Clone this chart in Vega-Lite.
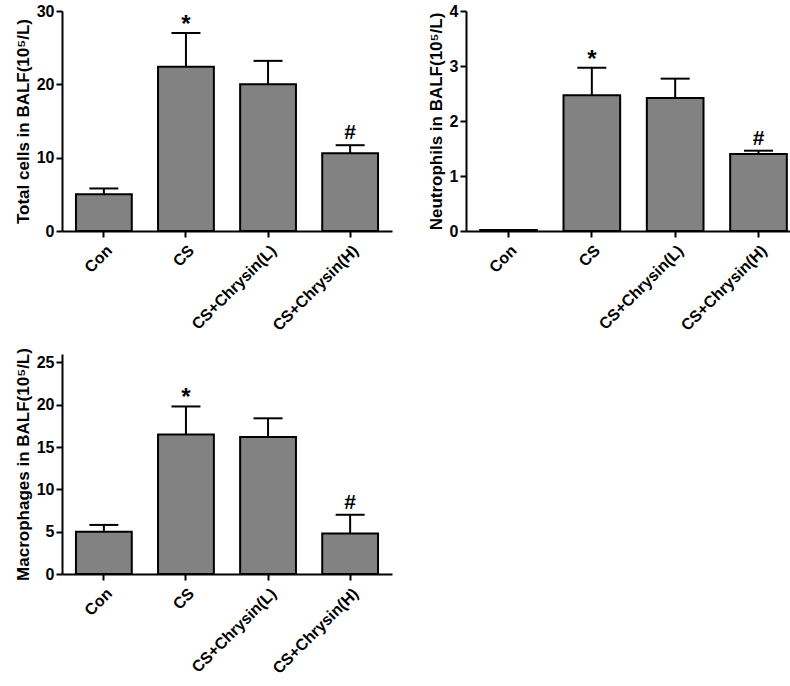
{
  "$schema": "https://vega.github.io/schema/vega-lite/v6.json",
  "background": "white",
  "padding": {"left": 14, "top": 3, "right": 0, "bottom": 0},
  "datasets": {
    "total": [
      {"group": "Con", "mean": 5.0, "err": 5.8, "sig": ""},
      {"group": "CS", "mean": 22.4, "err": 27.0, "sig": "*"},
      {"group": "CS+Chrysin(L)", "mean": 20.0, "err": 23.2, "sig": ""},
      {"group": "CS+Chrysin(H)", "mean": 10.6, "err": 11.7, "sig": "#"}
    ],
    "neut": [
      {"group": "Con", "mean": 0.02, "err": 0.02, "sig": ""},
      {"group": "CS", "mean": 2.47, "err": 2.97, "sig": "*"},
      {"group": "CS+Chrysin(L)", "mean": 2.42, "err": 2.77, "sig": ""},
      {"group": "CS+Chrysin(H)", "mean": 1.40, "err": 1.46, "sig": "#"}
    ],
    "macro": [
      {"group": "Con", "mean": 5.0, "err": 5.8, "sig": ""},
      {"group": "CS", "mean": 16.5, "err": 19.8, "sig": "*"},
      {"group": "CS+Chrysin(L)", "mean": 16.2, "err": 18.4, "sig": ""},
      {"group": "CS+Chrysin(H)", "mean": 4.8, "err": 7.0, "sig": "#"}
    ]
  },
  "config": {
    "view": {"stroke": null},
    "font": "Liberation Sans",
    "axis": {
      "domainColor": "black", "domainWidth": 2,
      "tickColor": "black", "tickWidth": 2, "tickSize": 6,
      "labelFont": "Liberation Sans", "labelFontWeight": "bold", "labelFontSize": 16, "labelColor": "black",
      "titleFont": "Liberation Sans", "titleFontWeight": "bold", "titleFontSize": 17, "titleColor": "black",
      "grid": false
    },
    "axisX": {"labelPadding": 5}
  },
  "spacing": 13,
  "vconcat": [
    {
      "spacing": 35,
      "hconcat": [
        {
          "width": 330, "height": 220,
          "data": {"name": "total"},
          "encoding": {
            "x": {"field": "group", "type": "nominal", "sort": null,
                  "scale": {"paddingInner": 0.32, "paddingOuter": 0.17},
                  "axis": {"title": null, "labelAngle": -45}}
          },
          "layer": [
            {"mark": {"type": "bar", "fill": "#828282", "stroke": "black", "strokeWidth": 2},
             "encoding": {"y": {"field": "mean", "type": "quantitative", "scale": {"domain": [0, 30]},
                                "axis": {"values": [0, 10, 20, 30], "format": "d", "title": "Total cells in BALF(10⁵/L)"}}}},
            {"mark": {"type": "rule", "strokeWidth": 2, "color": "black"},
             "encoding": {"y": {"field": "mean", "type": "quantitative"}, "y2": {"field": "err"}}},
            {"mark": {"type": "tick", "orient": "horizontal", "size": 29, "thickness": 2, "color": "black", "opacity": 1},
             "encoding": {"y": {"field": "err", "type": "quantitative"}}},
            {"mark": {"type": "text", "fontSize": 24, "fontWeight": "bold", "dy": 4, "baseline": "bottom", "color": "black"},
             "transform": [{"filter": "datum.sig == '*'"}],
             "encoding": {"y": {"field": "err", "type": "quantitative"}, "text": {"field": "sig"}}},
            {"mark": {"type": "text", "fontSize": 21, "fontWeight": "bold", "dy": -2, "baseline": "bottom", "color": "black"},
             "transform": [{"filter": "datum.sig == '#'"}],
             "encoding": {"y": {"field": "err", "type": "quantitative"}, "text": {"field": "sig"}}}
          ]
        },
        {
          "width": 335, "height": 220,
          "data": {"name": "neut"},
          "encoding": {
            "x": {"field": "group", "type": "nominal", "sort": null,
                  "scale": {"paddingInner": 0.32, "paddingOuter": 0.17},
                  "axis": {"title": null, "labelAngle": -45}}
          },
          "layer": [
            {"mark": {"type": "bar", "fill": "#828282", "stroke": "black", "strokeWidth": 2},
             "encoding": {"y": {"field": "mean", "type": "quantitative", "scale": {"domain": [0, 4]},
                                "axis": {"values": [0, 1, 2, 3, 4], "format": "d", "title": "Neutrophils in BALF(10⁵/L)"}}}},
            {"mark": {"type": "rule", "strokeWidth": 2, "color": "black"},
             "encoding": {"y": {"field": "mean", "type": "quantitative"}, "y2": {"field": "err"}}},
            {"mark": {"type": "tick", "orient": "horizontal", "size": 29, "thickness": 2, "color": "black", "opacity": 1},
             "transform": [{"filter": "datum.err > datum.mean"}],
             "encoding": {"y": {"field": "err", "type": "quantitative"}}},
            {"mark": {"type": "text", "fontSize": 24, "fontWeight": "bold", "dy": 4, "baseline": "bottom", "color": "black"},
             "transform": [{"filter": "datum.sig == '*'"}],
             "encoding": {"y": {"field": "err", "type": "quantitative"}, "text": {"field": "sig"}}},
            {"mark": {"type": "text", "fontSize": 21, "fontWeight": "bold", "dy": -2, "baseline": "bottom", "color": "black"},
             "transform": [{"filter": "datum.sig == '#'"}],
             "encoding": {"y": {"field": "err", "type": "quantitative"}, "text": {"field": "sig"}}}
          ]
        }
      ]
    },
    {
      "width": 330, "height": 220,
      "data": {"name": "macro"},
      "encoding": {
        "x": {"field": "group", "type": "nominal", "sort": null,
              "scale": {"paddingInner": 0.32, "paddingOuter": 0.17},
              "axis": {"title": null, "labelAngle": -45}}
      },
      "layer": [
        {"mark": {"type": "bar", "fill": "#828282", "stroke": "black", "strokeWidth": 2},
         "encoding": {"y": {"field": "mean", "type": "quantitative", "scale": {"domain": [0, 25]},
                            "axis": {"values": [0, 5, 10, 15, 20, 25], "format": "d", "title": "Macrophages in BALF(10⁵/L)"}}}},
        {"mark": {"type": "rule", "strokeWidth": 2, "color": "black"},
         "encoding": {"y": {"field": "mean", "type": "quantitative"}, "y2": {"field": "err"}}},
        {"mark": {"type": "tick", "orient": "horizontal", "size": 29, "thickness": 2, "color": "black", "opacity": 1},
         "encoding": {"y": {"field": "err", "type": "quantitative"}}},
        {"mark": {"type": "text", "fontSize": 24, "fontWeight": "bold", "dy": 4, "baseline": "bottom", "color": "black"},
         "transform": [{"filter": "datum.sig == '*'"}],
         "encoding": {"y": {"field": "err", "type": "quantitative"}, "text": {"field": "sig"}}},
        {"mark": {"type": "text", "fontSize": 21, "fontWeight": "bold", "dy": -2, "baseline": "bottom", "color": "black"},
         "transform": [{"filter": "datum.sig == '#'"}],
         "encoding": {"y": {"field": "err", "type": "quantitative"}, "text": {"field": "sig"}}}
      ]
    }
  ]
}
